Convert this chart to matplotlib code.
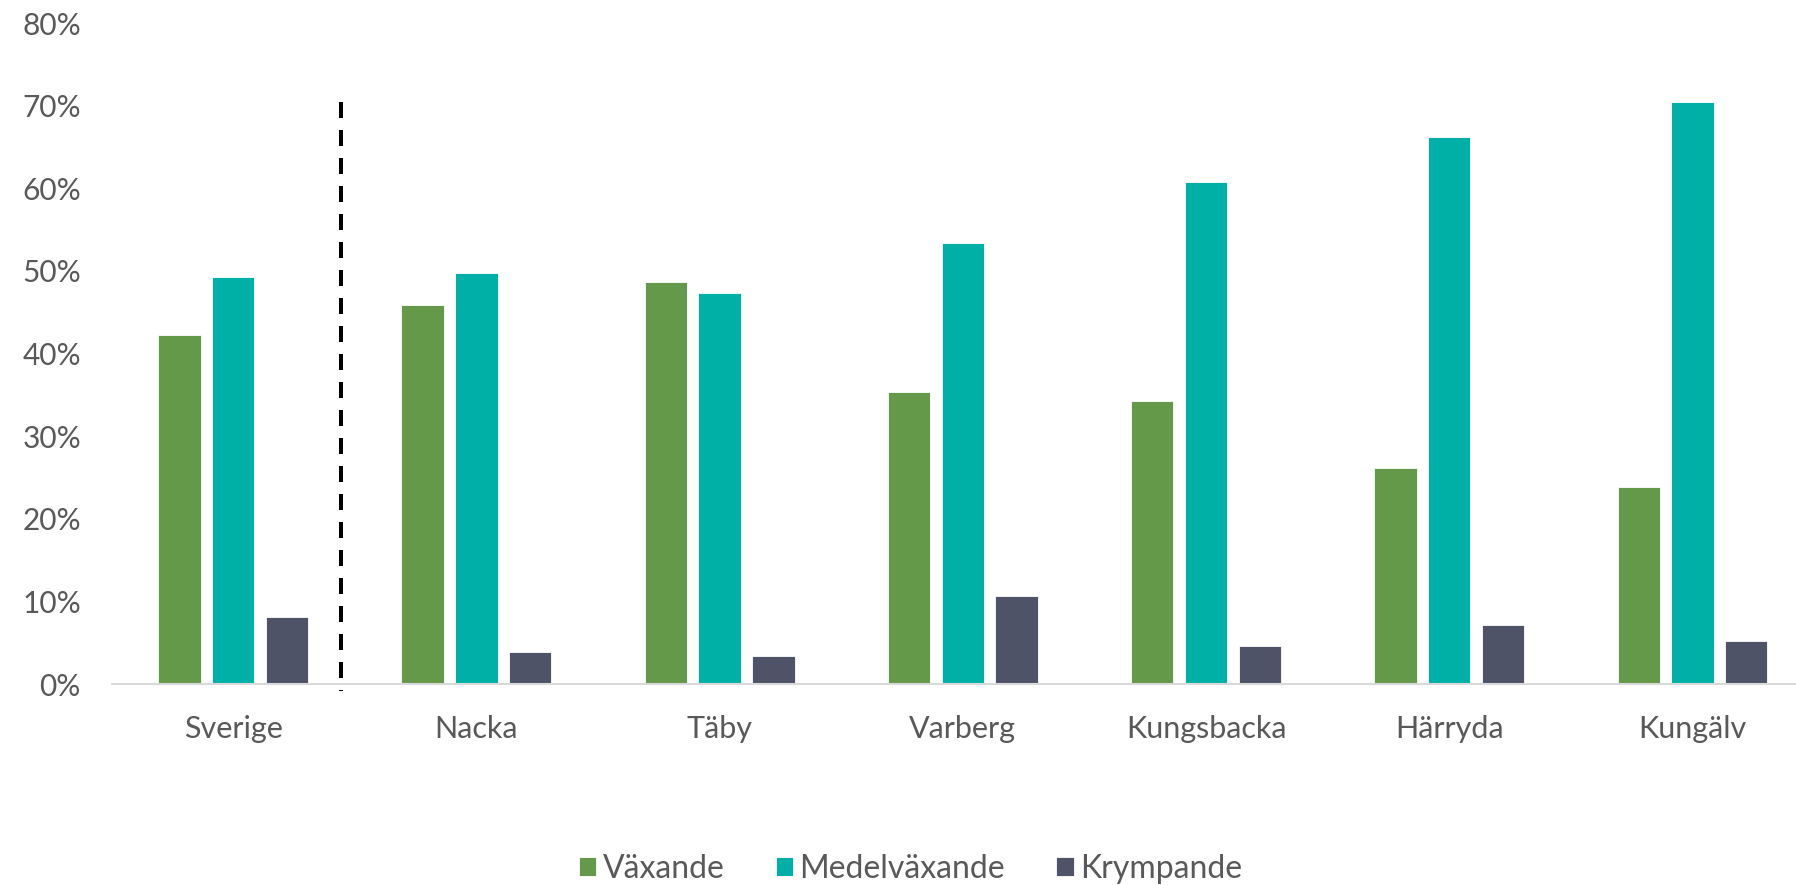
import numpy as np
import matplotlib.pyplot as plt

plt.rcParams['font.family'] = ['Lato', 'DejaVu Sans']

kommuner = ['Sverige', 'Nacka', 'Täby', 'Varberg', 'Kungsbacka', 'Härryda', 'Kungälv']
vaxande = [0.422, 0.459, 0.487, 0.354, 0.342, 0.261, 0.239]
medelvaxande = [0.492, 0.497, 0.473, 0.534, 0.608, 0.662, 0.705]
krympande = [0.081, 0.039, 0.034, 0.106, 0.046, 0.072, 0.052]

series = [('Växande', vaxande, '#64994A'),
          ('Medelväxande', medelvaxande, '#00B0A6'),
          ('Krympande', krympande, '#4E5368')]

fig = plt.figure(figsize=(17.96, 8.85), dpi=100)
ax = fig.add_axes([0.0621, 0.2271, 0.948, 0.7469])

x = np.arange(len(kommuner))
w = 0.174
step = 0.221
for i, (name, vals, col) in enumerate(series):
    ax.bar(x + (i - 1) * step, vals, width=w, color=col, label=name,
           edgecolor='white', linewidth=0.6)

# skiljelinje mellan Sverige och kommunerna (ritas uppifrån och ned)
ax.plot([0.445, 0.445], [0.705, -0.0085], ls=(0, (4, 3)), c='k', lw=2.88,
        solid_capstyle='butt', dash_capstyle='butt', clip_on=False)

ax.set_xlim(-0.5, len(kommuner) - 0.5)
ax.set_ylim(0, 0.8)
ticks = np.arange(0, 0.81, 0.1)
ax.set_yticks(ticks)
ax.set_yticklabels(['{:d}%'.format(int(round(v * 100))) for v in ticks])
ax.set_xticks(x)
ax.set_xticklabels(kommuner)
ax.tick_params(axis='both', length=0, colors='#595959')
ax.tick_params(axis='x', pad=22, labelsize=22)
ax.tick_params(axis='y', pad=22, labelsize=21.5)
for s in ['top', 'right', 'left']:
    ax.spines[s].set_visible(False)
ax.spines['bottom'].set_color('#D9D9D9')
ax.spines['bottom'].set_linewidth(1.5)

leg = fig.legend(loc='center', bbox_to_anchor=(0.507, 0.018), ncol=3,
                 frameon=False, fontsize=23, handlelength=0.55,
                 handleheight=0.55, handletextpad=0.2, columnspacing=1.6)
for t in leg.get_texts():
    t.set_color('#595959')

fig.savefig('out.png', dpi=100)
